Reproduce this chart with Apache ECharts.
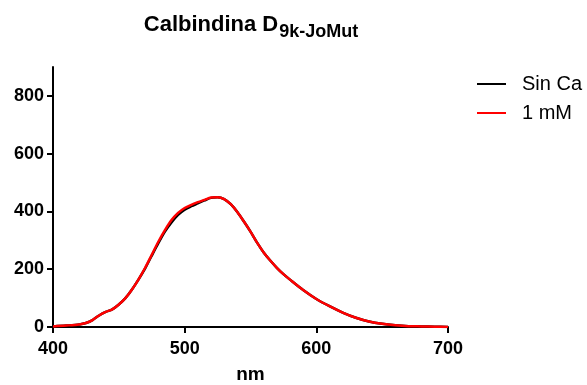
<!DOCTYPE html>
<html>
<head>
<meta charset="utf-8">
<script src="https://cdn.jsdelivr.net/npm/echarts@6/dist/echarts.min.js"></script>
<style>
  html, body { margin: 0; padding: 0; background: #fff; }
  #chart { width: 587px; height: 385px; }
</style>
</head>
<body>
<div id="chart"></div>
<script>
const wavelengths = [400, 410, 420, 425, 430, 435, 440, 445, 450, 455, 460, 465, 470, 475, 480, 485, 490, 495, 500, 505, 510, 515, 520, 525, 530, 535, 540, 545, 550, 555, 560, 565, 570, 575, 580, 590, 600, 610, 620, 630, 640, 650, 660, 670, 680, 690, 700];
const sinCa = [2, 5, 9, 14, 24, 40, 52, 61, 78, 100, 130, 165, 203, 247, 290, 330, 362, 388, 406, 418, 428, 438, 447, 449, 443, 425, 398, 365, 330, 292, 258, 230, 205, 183, 164, 128, 97, 72, 50, 32, 19, 11, 6, 3, 2, 1, 0];
const mM1 = [2, 5, 9, 14, 24, 40, 52, 61, 78, 100, 130, 165, 205, 250, 295, 335, 370, 395, 412, 423, 432, 440, 448, 449, 443, 425, 398, 365, 330, 292, 258, 230, 205, 183, 164, 128, 97, 72, 50, 32, 19, 11, 6, 3, 2, 1, 0];
const yTicks = [0, 200, 400, 600, 800];

const font = 'Arial, "Liberation Sans", sans-serif';
const chart = echarts.init(document.getElementById('chart'));

function pairs(ys) {
    return wavelengths.map((x, i) => [x, ys[i]]);
}

const option = {
    animation: false,
    backgroundColor: '#fff',
    title: {
        text: '{main|Calbindina D}{sub|9k-JoMut}',
        left: 251,
        textAlign: 'center',
        top: 8,
        padding: 0,
        textStyle: {
            rich: {
                main: { fontFamily: font, fontWeight: 'bold', fontSize: 22, color: '#000' },
                sub: { fontFamily: font, fontWeight: 'bold', fontSize: 18, color: '#000', padding: [15, 0, 0, 1] }
            }
        }
    },
    legend: {
        left: 472,
        top: 69,
        orient: 'vertical',
        icon: 'rect',
        itemWidth: 29,
        itemHeight: 2,
        itemGap: 9,
        textStyle: { fontFamily: font, fontSize: 20, lineHeight: 20, color: '#000', padding: [0, 0, 0, 11] },
        data: ['Sin Ca', '1 mM']
    },
    grid: { left: 53, right: 139, top: 67, bottom: 58, containLabel: false, outerBoundsMode: 'none' },
    xAxis: {
        type: 'value',
        min: 400,
        max: 700,
        interval: 100,
        name: 'nm',
        nameLocation: 'middle',
        nameGap: 38,
        nameTextStyle: { fontFamily: font, fontWeight: 'bold', fontSize: 19, color: '#000' },
        splitLine: { show: false },
        axisLine: { lineStyle: { color: '#000', width: 2 } },
        axisTick: { length: 6, lineStyle: { color: '#000', width: 2 } },
        axisLabel: { fontFamily: font, fontWeight: 'bold', fontSize: 18, color: '#000', margin: 13 }
    },
    yAxis: {
        type: 'value',
        min: 0,
        max: 900,
        splitLine: { show: false },
        axisLine: { show: true, lineStyle: { color: '#000', width: 2 } },
        axisTick: { show: true, length: 6, customValues: yTicks, lineStyle: { color: '#000', width: 2 } },
        axisLabel: { customValues: yTicks, fontFamily: font, fontWeight: 'bold', fontSize: 18, color: '#000', margin: 9 }
    },
    series: [
        {
            name: 'Sin Ca',
            type: 'line',
            data: pairs(sinCa),
            smooth: 0.3,
            showSymbol: false,
            lineStyle: { color: '#000', width: 2.5 },
            itemStyle: { color: '#000' }
        },
        {
            name: '1 mM',
            type: 'line',
            data: pairs(mM1),
            smooth: 0.3,
            showSymbol: false,
            lineStyle: { color: '#ff0000', width: 2.5 },
            itemStyle: { color: '#ff0000' }
        }
    ]
};

chart.setOption(option);
</script>
</body>
</html>
